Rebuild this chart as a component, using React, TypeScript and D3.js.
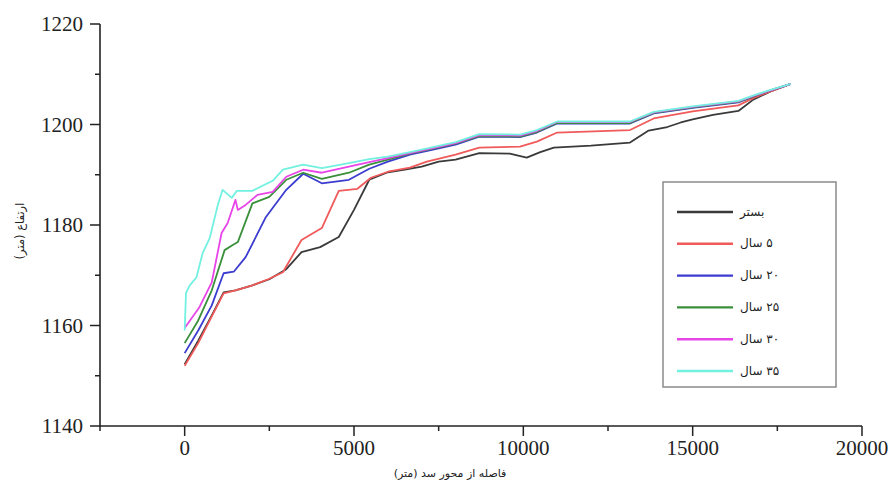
import React from "react";
import * as d3 from "d3";

// Longitudinal profiles: distance from dam axis (m) vs bed elevation (m)
type Pt = [number, number];

const bedProfile: Pt[] = [
  [0, 1152.3], [400, 1157], [800, 1162], [1150, 1166.6], [1500, 1167], [2000, 1168],
  [2500, 1169.2], [3000, 1171.2], [3450, 1174.6], [4000, 1175.6], [4550, 1177.6],
  [5000, 1183], [5450, 1189], [6000, 1190.5], [6500, 1191], [7000, 1191.6],
  [7500, 1192.6], [8000, 1193], [8700, 1194.3], [9600, 1194.2], [10100, 1193.4],
  [10500, 1194.5], [10900, 1195.4], [12000, 1195.8], [13150, 1196.4], [13700, 1198.8],
  [14250, 1199.5], [14650, 1200.4], [15000, 1201], [15600, 1201.9], [16350, 1202.7],
  [16800, 1205], [17300, 1206.6], [17900, 1208.1],
];

const year5Profile: Pt[] = [
  [0, 1152], [400, 1156.5], [800, 1161.8], [1150, 1166.4], [1500, 1167], [2000, 1168],
  [2500, 1169.3], [2900, 1170.6], [3450, 1177], [4050, 1179.4], [4550, 1186.8],
  [5100, 1187.2], [5500, 1189.4], [6000, 1190.6], [6650, 1191.4], [7150, 1192.6],
  [8000, 1194], [8700, 1195.4], [9900, 1195.6], [10400, 1196.6], [11000, 1198.4],
  [13150, 1198.9], [13850, 1201.2], [15000, 1202.6], [16350, 1203.8], [16800, 1205.3],
  [17300, 1206.6], [17900, 1208.1],
];

const year20Profile: Pt[] = [
  [0, 1154.5], [400, 1159], [800, 1164], [1150, 1170.4], [1450, 1170.7], [1800, 1173.6],
  [2400, 1181.6], [3000, 1187], [3500, 1190.2], [4050, 1188.3], [4850, 1189],
  [5450, 1191.2], [6000, 1192.6], [6650, 1194], [7200, 1194.8], [8000, 1196],
  [8700, 1197.6], [9900, 1197.5], [10400, 1198.4], [11000, 1200.2], [13150, 1200.2],
  [13850, 1202.2], [15000, 1203.3], [16350, 1204.4], [16800, 1205.6], [17300, 1206.8],
  [17900, 1208.1],
];

const year25Profile: Pt[] = [
  [0, 1156.5], [400, 1161], [800, 1167], [1180, 1175], [1420, 1176], [1570, 1176.6],
  [2000, 1184.3], [2500, 1185.6], [3000, 1189], [3500, 1190.4], [4050, 1189.2],
  [4850, 1190.4], [5450, 1192], [6000, 1193], [6650, 1194.2], [7200, 1195],
  [8000, 1196.2], [8700, 1197.7], [9900, 1197.6], [10400, 1198.5], [11000, 1200.3],
  [13150, 1200.3], [13850, 1202.3], [15000, 1203.4], [16350, 1204.5], [16800, 1205.6],
  [17300, 1206.8], [17900, 1208.1],
];

const year30Profile: Pt[] = [
  [0, 1159.5], [440, 1163.7], [800, 1168.6], [1090, 1178.4], [1270, 1180.4], [1500, 1185],
  [1570, 1183], [1800, 1184], [2150, 1186], [2600, 1186.6], [3000, 1189.6], [3500, 1191],
  [4050, 1190.4], [4850, 1191.6], [5450, 1192.5], [6000, 1193.3], [6650, 1194.3],
  [7200, 1195.1], [8000, 1196.3], [8700, 1197.9], [9900, 1197.8], [10400, 1198.7],
  [11000, 1200.5], [13150, 1200.5], [13850, 1202.4], [15000, 1203.5], [16350, 1204.6],
  [16800, 1205.7], [17300, 1206.8], [17900, 1208.1],
];

const year35Profile: Pt[] = [
  [0, 1159], [40, 1166.5], [150, 1168], [350, 1169.6], [530, 1174.4], [740, 1177.4],
  [980, 1184], [1120, 1187], [1390, 1185.4], [1540, 1186.8], [2000, 1186.8],
  [2600, 1188.8], [2900, 1191], [3500, 1192], [4050, 1191.3], [4850, 1192.3],
  [5450, 1193.1], [6000, 1193.6], [6650, 1194.5], [7200, 1195.3], [8000, 1196.5],
  [8700, 1198.1], [9900, 1198], [10400, 1198.9], [11000, 1200.6], [13150, 1200.6],
  [13850, 1202.5], [15000, 1203.6], [16350, 1204.7], [16800, 1205.8], [17300, 1206.9],
  [17900, 1208.1],
];

const seriesLabels = ["بستر", "۵ سال", "۲۰ سال", "۲۵ سال", "۳۰ سال", "۳۵ سال"];
const seriesData = [bedProfile, year5Profile, year20Profile, year25Profile, year30Profile, year35Profile];
const seriesColors = ["#3a3a3a", "#f05a5a", "#3c3cd0", "#3a8f3a", "#e845e8", "#72f0e0"];

const xMajorTicks = [0, 5000, 10000, 15000, 20000];
const xMinorTicks = [-2500, 2500, 7500, 12500, 17500];
const yMajorTicks = [1140, 1160, 1180, 1200, 1220];
const yMinorTicks = [1150, 1170, 1190, 1210];

const xTitle = "فاصله از محور سد (متر)";
const yTitle = "ارتفاع (متر)";

const W = 894;
const H = 485;
const left = 100;
const right = 862;
const top = 24;
const bottom = 426;

export default function App() {
  const x = d3.scaleLinear().domain([-2500, 20000]).range([left, right]);
  const y = d3.scaleLinear().domain([1140, 1220]).range([bottom, top]);
  const line = d3
    .line<Pt>()
    .x((d) => x(d[0]))
    .y((d) => y(d[1]));

  const serif = "'Liberation Serif', 'Times New Roman', serif";
  const arabic = "'DejaVu Sans', sans-serif";

  const legendX = 663;
  const legendY = 182;
  const legendRow0 = 212;
  const legendStep = 31.8;

  return (
    <svg
      width={W}
      height={H}
      style={{ position: "absolute", left: 0, top: 0, background: "#fff" }}
    >
      {/* series, drawn bed first so later years sit on top */}
      {seriesData.map((s, i) => (
        <path
          key={i}
          d={line(s) ?? ""}
          fill="none"
          stroke={seriesColors[i]}
          strokeWidth={1.8}
          strokeLinejoin="round"
        />
      ))}

      {/* y axis */}
      <line x1={left} x2={left} y1={top} y2={bottom} stroke="#222" strokeWidth={1.6} />
      {yMajorTicks.map((t) => (
        <g key={t}>
          <line x1={left - 10} x2={left} y1={y(t)} y2={y(t)} stroke="#222" strokeWidth={1.5} />
          <text
            x={left - 17}
            y={y(t)}
            dy="0.35em"
            textAnchor="end"
            fontFamily={serif}
            fontSize={21}
            fill="#222"
          >
            {t}
          </text>
        </g>
      ))}
      {yMinorTicks.map((t) => (
        <line key={t} x1={left - 5} x2={left} y1={y(t)} y2={y(t)} stroke="#222" strokeWidth={1.5} />
      ))}

      {/* x axis */}
      <line x1={left} x2={right} y1={bottom} y2={bottom} stroke="#222" strokeWidth={1.6} />
      {xMajorTicks.map((t) => (
        <g key={t}>
          <line x1={x(t)} x2={x(t)} y1={bottom} y2={bottom + 10} stroke="#222" strokeWidth={1.5} />
          <text
            x={x(t)}
            y={bottom + 29}
            textAnchor="middle"
            fontFamily={serif}
            fontSize={21}
            fill="#222"
          >
            {t}
          </text>
        </g>
      ))}
      {xMinorTicks.map((t) => (
        <line key={t} x1={x(t)} x2={x(t)} y1={bottom} y2={bottom + 5} stroke="#222" strokeWidth={1.5} />
      ))}

      {/* axis titles */}
      <text
        x={450}
        y={477}
        textAnchor="middle"
        fontFamily={arabic}
        fontSize={11}
        fill="#222"
        direction="rtl"
      >
        {xTitle}
      </text>
      <text
        transform={`translate(24, ${y(1178.8)}) rotate(-90)`}
        textAnchor="middle"
        fontFamily={arabic}
        fontSize={11.5}
        fill="#222"
        direction="rtl"
      >
        {yTitle}
      </text>

      {/* legend */}
      <rect
        x={legendX}
        y={legendY}
        width={173}
        height={205}
        fill="#fff"
        stroke="#8a8a8a"
        strokeWidth={1.5}
      />
      {seriesLabels.map((lab, i) => {
        const ly = legendRow0 + i * legendStep;
        return (
          <g key={lab}>
            <line x1={677} x2={733} y1={ly} y2={ly} stroke={seriesColors[i]} strokeWidth={2.4} />
            <text
              x={740}
              y={ly}
              dy="0.3em"
              fontFamily={arabic}
              fontSize={12}
              fill="#222"
            >
              {"\u202B" + lab + "\u202C"}
            </text>
          </g>
        );
      })}
    </svg>
  );
}
